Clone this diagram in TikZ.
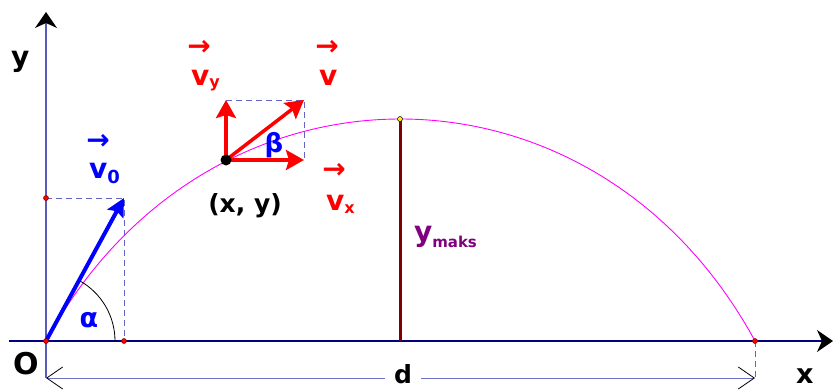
\documentclass[tikz,border=0pt]{standalone}
\usepackage{fontspec}
\setmainfont{DejaVu Sans}
\usetikzlibrary{arrows.meta}
\definecolor{axisblue}{HTML}{000080}
\definecolor{yaxisblue}{HTML}{5A5AB8}
\definecolor{dashblue}{HTML}{6464C8}
\definecolor{dimblue}{HTML}{7070C4}
\definecolor{maroonln}{HTML}{800000}
\definecolor{purp}{HTML}{800080}
\definecolor{traj}{HTML}{FF00FF}
\newcommand\fsz[1]{\fontsize{#1}{#1}\selectfont}
\tikzset{
  lbl/.style={inner sep=0pt,outer sep=0pt,font=\bfseries},
  axisline/.style={line width=1.2pt},
  axtip/.style={-{Stealth[length=16pt,width=22pt,inset=5pt,color=black]}},
  vecred/.style={draw=red,line width=3.5pt,-{Stealth[length=18pt,width=20pt,inset=3pt]}},
  vecblue/.style={draw=blue,line width=4pt,-{Stealth[length=18pt,width=18pt,inset=3pt]}},
  helper/.style={draw=dashblue,line width=1pt,dash pattern=on 6pt off 4pt},
  redpt/.style={circle,fill=red,draw=maroonln,line width=0.5pt,inner sep=0pt,minimum size=5pt},
  yelpt/.style={circle,fill=yellow,draw=black,line width=0.5pt,inner sep=0pt,minimum size=5pt},
}
\begin{document}
\begin{tikzpicture}[x=1pt,y=-1pt]
\useasboundingbox (0,0) rectangle (833,389);
% coordinates
\coordinate (O) at (46,341);
\coordinate (xa0) at (9,341);
\coordinate (xa1) at (833,341);
\coordinate (ya1) at (46,12);
\coordinate (dl) at (46,378);
\coordinate (dr) at (755,378);
\coordinate (D) at (755,341);
\coordinate (A) at (124,341);
\coordinate (B) at (46,198);
\coordinate (V0) at (124,198);
\coordinate (T) at (400,119);
\coordinate (P) at (226,160);
\coordinate (Px) at (304,160);
\coordinate (Py) at (226,100);
\coordinate (Pv) at (304,100);
% dimension line d
\draw[draw=dimblue,line width=1pt,{Straight Barb[length=16pt,width=22pt,color=black,line width=0.8pt]}-{Straight Barb[length=16pt,width=22pt,color=black,line width=0.8pt]}] (dl) -- (dr);
\node[lbl,fill=white,inner xsep=9pt,inner ysep=0pt,anchor=base] (d) at (403,383) {\fsz{25}d};
\draw[helper] (D) -- (dr);
% axes
\draw[axisline,draw=yaxisblue,axtip] (dl) -- (ya1);
\draw[axisline,draw=axisblue,axtip] (xa0) -- (xa1);
% helper dashed lines
\draw[helper] (B) -- (V0) -- (A);
\draw[helper] (Py) -- (Pv) -- (Px);
% trajectory
\draw[traj,line width=0.9pt] (O) .. controls (207,45) and (594,45) .. (D);
% ymax
\draw[maroonln,line width=3pt] (T) -- (400,341);
% angle alpha
\draw[black,line width=0.8pt] ([shift={(0:69)}]O) arc[start angle=0,end angle=61.4,radius=69pt];
% vectors
\draw[vecblue] (O) -- (V0);
\draw[vecred] (P) -- (Px);
\draw[vecred] (P) -- (Py);
\draw[vecred] (P) -- (Pv);
\fill[black] (P) circle (5.5);
% points
\node[redpt] (pO) at (O) {};
\node[redpt] (pA) at (A) {};
\node[redpt] (pB) at (B) {};
\node[redpt] (pD) at (D) {};
\node[yelpt] (pT) at (T) {};
% labels
\node[lbl,anchor=base west] (ylbl) at (11,66) {\fsz{28}y};
\node[lbl,anchor=base west] (xlbl) at (796,383) {\fsz{27}x};
\node[lbl] (Olbl) at (26,364) {\fsz{30}O};
\node[lbl,text=blue] (alpha) at (89,320) {\fsz{27}α};
\node[lbl,text=blue] (beta) at (274,145) {\fsz{26}β};
\node[lbl] (xy) at (245,206) {\fsz{25}(x, y)};
% vector labels
\node[lbl,text=blue] (v0a) at (98,142) {\fsz{28}→};
\node[lbl,text=blue,anchor=base west] (v0t) at (89,178) {\fsz{28}v\raisebox{-5pt}{\fsz{18}0}};
\node[lbl,text=red] (vya) at (199,48) {\fsz{28}→};
\node[lbl,text=red,anchor=base west] (vyt) at (191,85) {\fsz{28}v\raisebox{-2pt}{\fsz{16}y}};
\node[lbl,text=red] (va) at (327,48) {\fsz{28}→};
\node[lbl,text=red,anchor=base west] (vt) at (319,85) {\fsz{28}v};
\node[lbl,text=red] (vxa) at (334,171) {\fsz{28}→};
\node[lbl,text=red,anchor=base west] (vxt) at (326,210) {\fsz{28}v\raisebox{-3pt}{\fsz{16}x}};
\node[lbl,text=purp,anchor=base west] (ym) at (414,241) {\fsz{28}y\raisebox{-6pt}{\fsz{15}maks}};
\end{tikzpicture}
\end{document}
